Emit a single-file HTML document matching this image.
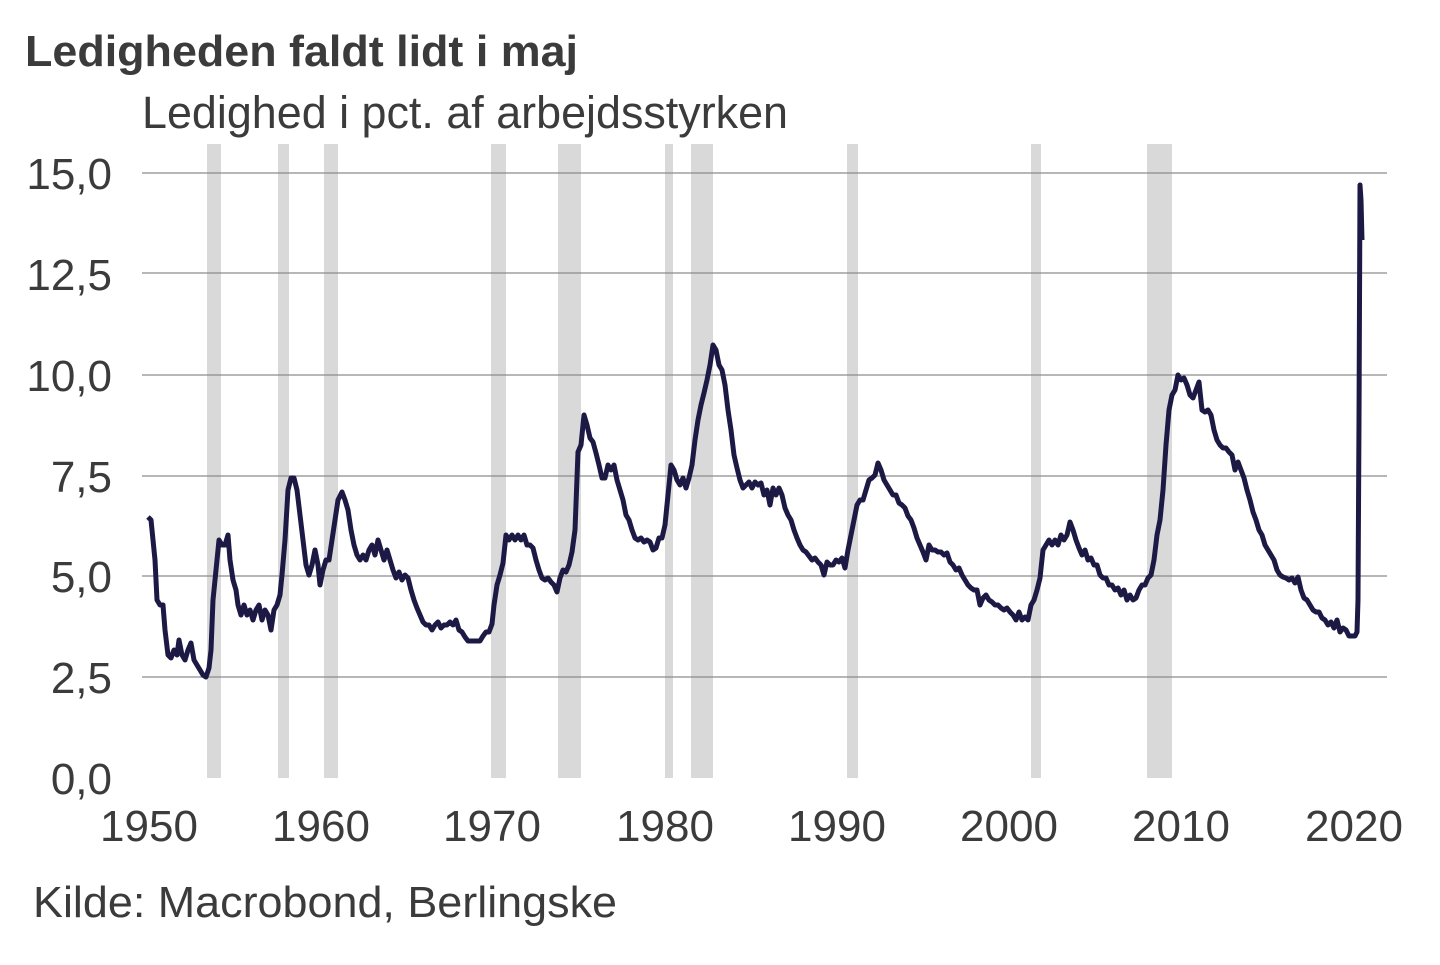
<!DOCTYPE html>
<html><head><meta charset="utf-8"><style>
html,body{margin:0;padding:0;background:#fff;}
body{width:1440px;height:960px;overflow:hidden;font-family:"Liberation Sans",sans-serif;}
</style></head><body>
<svg width="1440" height="960" viewBox="0 0 1440 960" xmlns="http://www.w3.org/2000/svg" font-family="Liberation Sans, sans-serif">
<text x="25" y="66" font-size="44" font-weight="bold" fill="#3b3b3b" textLength="553" lengthAdjust="spacingAndGlyphs">Ledigheden faldt lidt i maj</text>
<text x="142" y="128" font-size="45" fill="#3b3b3b" textLength="646" lengthAdjust="spacingAndGlyphs">Ledighed i pct. af arbejdsstyrken</text>
<g fill="#d9d9d9">
<rect x="207" y="144" width="14" height="634"/>
<rect x="278" y="144" width="11" height="634"/>
<rect x="324" y="144" width="14" height="634"/>
<rect x="491" y="144" width="15" height="634"/>
<rect x="558" y="144" width="23" height="634"/>
<rect x="665" y="144" width="8" height="634"/>
<rect x="691" y="144" width="22" height="634"/>
<rect x="847" y="144" width="11" height="634"/>
<rect x="1031" y="144" width="10" height="634"/>
<rect x="1147" y="144" width="25" height="634"/>
</g>
<g stroke="#8c8c8c" stroke-width="1.3">
<line x1="142" y1="173" x2="1387" y2="173"/>
<line x1="142" y1="273" x2="1387" y2="273"/>
<line x1="142" y1="375" x2="1387" y2="375"/>
<line x1="142" y1="476" x2="1387" y2="476"/>
<line x1="142" y1="576" x2="1387" y2="576"/>
<line x1="142" y1="677" x2="1387" y2="677"/>
</g>
<g font-size="44" fill="#3b3b3b" text-anchor="end">
<text x="112" y="189">15,0</text>
<text x="112" y="290">12,5</text>
<text x="112" y="391">10,0</text>
<text x="112" y="492">7,5</text>
<text x="112" y="592">5,0</text>
<text x="112" y="693">2,5</text>
<text x="112" y="794">0,0</text>
</g>
<g font-size="44" fill="#3b3b3b" text-anchor="middle">
<text x="149" y="841">1950</text>
<text x="321" y="841">1960</text>
<text x="492" y="841">1970</text>
<text x="665" y="841">1980</text>
<text x="837" y="841">1990</text>
<text x="1009" y="841">2000</text>
<text x="1181" y="841">2010</text>
<text x="1354" y="841">2020</text>
</g>
<text x="33" y="917" font-size="44" fill="#3b3b3b" textLength="584" lengthAdjust="spacingAndGlyphs">Kilde: Macrobond, Berlingske</text>
<polyline fill="none" stroke="#1c1a45" stroke-width="5" stroke-linejoin="round" points="148,517 151,520 153,540 155,560 157,600 160,605 163,605 165,630 168,655 171,658 174,650 177,655 179,640 182,655 185,660 188,650 191,643 194,660 197,665 200,670 203,675 206,677 209,668 211,650 213,600 216,570 219,540 222,545 225,545 228,535 230,560 233,580 236,590 238,605 241,615 244,605 247,615 250,610 253,620 256,610 259,605 262,620 265,610 268,615 271,630 274,610 277,605 280,595 282,575 285,540 288,490 291,478 294,478 297,490 300,515 303,540 306,565 309,575 312,565 315,550 318,565 320,585 323,570 326,560 329,560 332,540 335,520 338,500 342,492 345,500 348,510 351,530 354,545 357,555 360,560 363,555 366,560 369,550 372,545 375,555 378,540 381,550 384,560 387,550 390,560 393,570 396,578 399,572 402,580 405,575 408,578 411,590 414,600 417,608 420,615 423,622 426,625 429,625 432,630 435,625 438,622 441,628 444,625 447,625 450,622 453,625 456,620 459,630 462,632 465,637 468,641 471,641 474,641 477,641 480,641 483,636 486,632 489,632 492,624 494,605 497,585 500,575 503,563 506,535 509,540 512,535 515,540 518,535 521,540 524,535 527,545 530,545 533,548 536,560 539,570 542,578 545,580 548,578 551,582 554,585 557,592 560,578 563,570 566,572 569,565 572,552 575,530 578,452 581,445 584,415 587,425 590,438 593,442 596,453 599,465 602,478 605,478 608,465 611,470 614,465 617,480 620,490 623,500 626,515 629,520 632,530 635,538 638,540 641,538 644,542 647,540 650,542 653,550 656,548 659,538 662,538 665,525 668,495 671,465 674,470 677,480 680,485 683,478 686,488 689,478 692,465 695,440 698,420 701,405 704,393 707,380 710,365 713,345 716,350 719,365 722,370 725,385 728,410 731,430 734,455 737,468 740,480 743,488 746,485 749,482 752,488 755,482 758,485 761,483 764,495 767,490 770,505 773,488 776,495 779,488 782,495 785,508 788,515 791,520 794,530 797,538 800,545 803,550 806,552 809,556 812,560 815,558 818,562 821,565 824,575 827,562 830,565 833,565 836,560 839,562 842,558 845,568 848,550 851,535 854,520 857,505 860,500 863,500 866,490 869,480 872,478 875,475 878,463 881,470 884,480 887,485 890,490 893,495 896,495 899,503 902,505 905,508 908,516 911,520 914,528 917,538 920,545 923,552 926,560 929,545 932,550 935,550 938,552 941,552 944,555 947,553 950,562 953,565 956,570 959,568 962,575 965,580 968,585 971,588 974,590 977,590 980,605 983,598 986,595 989,600 992,602 995,605 998,605 1001,608 1004,610 1007,608 1010,612 1013,615 1016,620 1019,612 1022,620 1025,617 1028,620 1031,605 1034,600 1037,590 1040,578 1043,550 1046,545 1049,540 1052,545 1055,540 1058,545 1061,535 1064,540 1067,535 1070,522 1073,530 1076,540 1079,548 1082,555 1085,550 1088,560 1091,558 1094,565 1097,565 1100,575 1103,578 1106,578 1109,585 1112,585 1115,590 1118,588 1121,595 1124,590 1127,600 1130,595 1133,600 1136,598 1139,590 1142,585 1145,585 1148,578 1151,575 1154,560 1157,535 1160,520 1163,490 1166,445 1169,410 1172,395 1175,390 1178,375 1181,380 1184,378 1187,385 1190,395 1193,398 1196,390 1199,382 1202,410 1205,412 1208,410 1211,415 1214,430 1217,440 1220,445 1223,448 1226,448 1229,452 1232,455 1235,470 1238,462 1241,470 1244,478 1247,490 1250,500 1253,512 1256,520 1259,530 1262,535 1265,545 1268,550 1271,555 1274,560 1277,570 1280,575 1283,577 1286,578 1289,580 1292,578 1295,583 1298,577 1301,590 1304,598 1307,600 1310,605 1313,610 1316,612 1319,612 1322,618 1325,620 1328,625 1331,622 1334,628 1337,620 1340,632 1343,628 1346,630 1349,636 1352,636 1355,636 1357,632 1358,600 1359,420 1360,185 1361,200 1362,240"/>
</svg>
</body></html>
